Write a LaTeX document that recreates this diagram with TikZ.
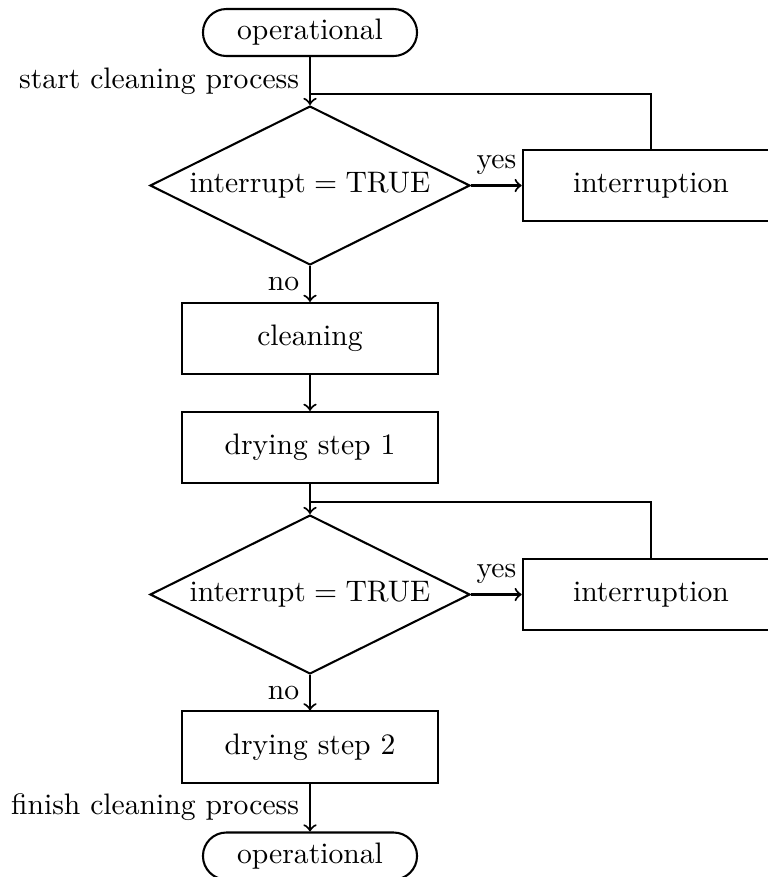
\documentclass[tikz,border=0pt]{standalone}
\usetikzlibrary{shapes.geometric}
\begin{document}
\begin{tikzpicture}[x=0.33727pt, y=-0.33727pt, line width=0.7pt,
  terminal/.style={draw, rectangle, rounded corners=7.9pt, minimum width=72.2pt,
    minimum height=15.85pt, inner sep=0pt},
  decision/.style={draw, diamond, aspect=2, minimum width=107.9pt,
    minimum height=53.6pt, inner sep=0pt},
  process/.style={draw, rectangle, minimum width=86.5pt, minimum height=24pt},
  flow/.style={->}]
  \useasboundingbox (0,0) rectangle (768,877);

  % main column
  \node[terminal] (op1)   at (310,32.5)  {operational};
  \node[decision] (d1)    at (310,185.5) {$\mbox{interrupt} = \mbox{TRUE}$};
  \node[process]  (int1)  at (651,185.5) {interruption};
  \node[process]  (clean) at (310,338.5) {cleaning};
  \node[process]  (dry1)  at (310,447.5) {drying step 1};
  \node[decision] (d2)    at (310,594.5) {$\mbox{interrupt} = \mbox{TRUE}$};
  \node[process]  (int2)  at (651,594.5) {interruption};
  \node[process]  (dry2)  at (310,747)   {drying step 2};
  \node[terminal] (op2)   at (310,856)   {operational};

  % points where the interruption loops rejoin the main flow
  \coordinate (j1) at (310,94);
  \coordinate (j2) at (310,502);

  % connectors
  \draw[flow] (op1) -- node[left] {start cleaning process} (d1);
  \draw[flow] (d1) -- node[above] {yes} (int1);
  \draw[flow] (d1) -- node[left] {no} (clean);
  \draw (int1.north) |- (j1);
  \draw[flow] (clean) -- (dry1);
  \draw[flow] (dry1) -- (d2);
  \draw[flow] (d2) -- node[above] {yes} (int2);
  \draw[flow] (d2) -- node[left] {no} (dry2);
  \draw (int2.north) |- (j2);
  \draw[flow] (dry2) -- node[left] {finish cleaning process} (op2);
\end{tikzpicture}
\end{document}
